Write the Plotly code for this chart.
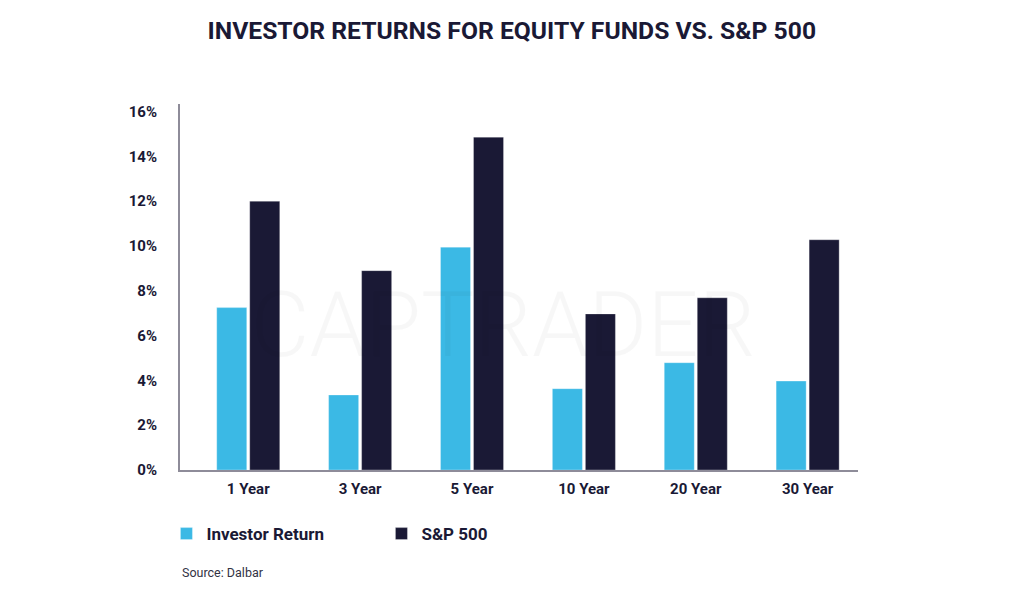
import plotly.graph_objects as go

categories = ["1 Year", "3 Year", "5 Year", "10 Year", "20 Year", "30 Year"]
investor_return = [7.25, 3.35, 9.95, 3.63, 4.79, 3.97]
sp500 = [12.0, 8.9, 14.86, 6.97, 7.69, 10.28]
tick_vals = [0, 2, 4, 6, 8, 10, 12, 14, 16]
tick_text = ["0%", "2%", "4%", "6%", "8%", "10%", "12%", "14%", "16%"]

NAVY = "#1a1935"
CYAN = "#3bb9e5"
FONT = "Roboto"

fig = go.Figure()
fig.add_trace(go.Bar(name="Investor Return", x=categories, y=investor_return,
                     marker=dict(color=CYAN, line=dict(color="rgba(255,255,255,0.5)", width=0.6))))
fig.add_trace(go.Bar(name="S&P 500", x=categories, y=sp500,
                     marker=dict(color=NAVY, line=dict(color="rgba(255,255,255,0.5)", width=0.6))))

fig.update_layout(
    width=1024, height=596,
    margin=dict(l=172, r=174, t=96, b=134),
    paper_bgcolor="white", plot_bgcolor="white",
    barmode="group", bargap=0.41, bargroupgap=0.09,
    font=dict(family=FONT, color=NAVY),
    title=dict(text="INVESTOR RETURNS FOR EQUITY FUNDS VS. S&P 500",
               x=0.492, xanchor="center", y=1 - 22 / 596, yanchor="middle", yref="container",
               font=dict(family=FONT, size=24.7, weight=700, color=NAVY)),
    showlegend=True,
    legend=dict(orientation="h", x=-0.02, xanchor="left", y=-0.175, yanchor="middle",
                font=dict(family=FONT, size=17, weight=700, color=NAVY),
                entrywidth=170, entrywidthmode="pixels", itemclick=False),
    xaxis=dict(range=[-0.61, 5.45], showgrid=False, showline=True, linecolor="#8e8c99", linewidth=2,
               ticks="", ticklabelstandoff=4,
               tickfont=dict(family=FONT, size=15, weight=700, color=NAVY), fixedrange=True),
    yaxis=dict(range=[0, 16.34], tickvals=tick_vals, ticktext=tick_text, showgrid=False,
               showline=True, linecolor="#8e8c99", linewidth=2, zeroline=False, ticks="",
               ticklabelstandoff=18,
               tickfont=dict(family=FONT, size=15, weight=700, color=NAVY), fixedrange=True),
)

fig.add_annotation(text="CAPTRADER", xref="paper", yref="paper", x=0.477, y=0.396,
                   showarrow=False, font=dict(family=FONT, size=90, weight=300, color="rgba(0,0,0,0.03)"))
fig.add_annotation(text="Source: Dalbar", xref="paper", yref="paper", x=0.0, y=-0.281,
                   xanchor="left", yanchor="middle", showarrow=False,
                   font=dict(family=FONT, size=12.5, color="#333344"))

fig.write_html("out.html")
